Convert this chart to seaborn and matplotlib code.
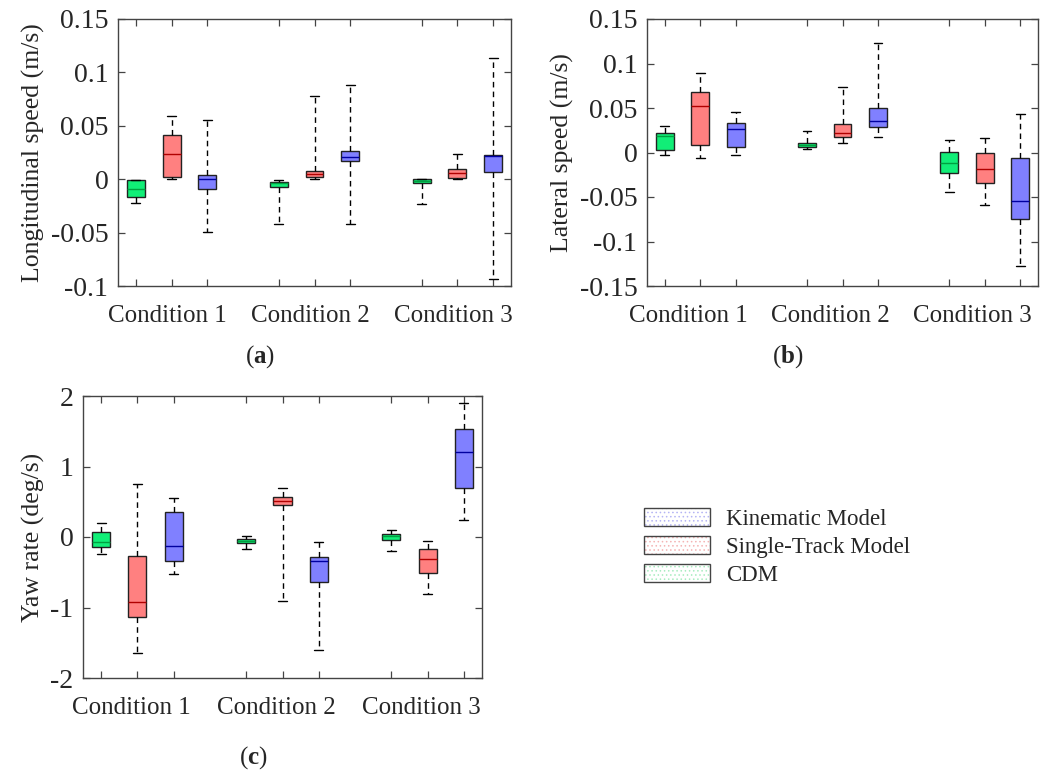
import numpy as np
import pandas as pd
import matplotlib
matplotlib.use("Agg")
import matplotlib.pyplot as plt
import matplotlib.transforms as mtransforms
from matplotlib.patches import Patch
from matplotlib.legend_handler import HandlerTuple
import seaborn as sns

sns.set_style("white")
plt.rcParams['font.family'] = ['Liberation Serif', 'DejaVu Serif']
plt.rcParams['mathtext.fontset'] = 'custom'
plt.rcParams['mathtext.rm'] = 'Liberation Serif'
plt.rcParams['mathtext.bf'] = 'Liberation Serif:bold'
plt.rcParams['axes.unicode_minus'] = False
plt.rcParams['hatch.linewidth'] = 0.6

conditions = ["Condition 1", "Condition 2", "Condition 3"]
models = ["CDM", "Single-Track Model", "Kinematic Model"]   # draw order inside each condition
legend_order = ["Kinematic Model", "Single-Track Model", "CDM"]

# five-number summaries, order: C1(CDM, ST, Kin), C2(...), C3(...)
a_lo  = [-0.0226, 0.0000, -0.0490, -0.0423, 0.0005, -0.0423, -0.0235, 0.0000, -0.0934]
a_q1  = [-0.0170, 0.0024, -0.0089, -0.0076, 0.0024, 0.0167, -0.0032, 0.0008, 0.0064]
a_med = [-0.0095, 0.0236, 0.0005, -0.0036, 0.0052, 0.0211, -0.0014, 0.0055, 0.0214]
a_q3  = [-0.0004, 0.0417, 0.0040, -0.0023, 0.0077, 0.0267, 0.0000, 0.0092, 0.0223]
a_hi  = [-0.0004, 0.0595, 0.0554, -0.0010, 0.0780, 0.0885, 0.0000, 0.0240, 0.1135]

b_lo  = [-0.0024, -0.0066, -0.0024, 0.0043, 0.0103, 0.0174, -0.0440, -0.0586, -0.1275]
b_q1  = [0.0032, 0.0088, 0.0062, 0.0058, 0.0174, 0.0287, -0.0234, -0.0343, -0.0747]
b_med = [0.0185, 0.0526, 0.0268, 0.0080, 0.0215, 0.0354, -0.0122, -0.0189, -0.0545]
b_q3  = [0.0223, 0.0684, 0.0335, 0.0103, 0.0320, 0.0504, 0.0002, -0.0006, -0.0066]
b_hi  = [0.0298, 0.0897, 0.0451, 0.0245, 0.0740, 0.1227, 0.0140, 0.0159, 0.0429]

c_lo  = [-0.245, -1.646, -0.519, -0.175, -0.906, -1.599, -0.198, -0.802, 0.236]
c_q1  = [-0.140, -1.137, -0.344, -0.080, 0.453, -0.642, -0.042, -0.509, 0.693]
c_med = [-0.070, -0.915, -0.127, -0.052, 0.514, -0.340, 0.009, -0.316, 1.212]
c_q3  = [0.070, -0.269, 0.354, -0.033, 0.561, -0.278, 0.042, -0.170, 1.538]
c_hi  = [0.193, 0.750, 0.547, 0.010, 0.698, -0.075, 0.099, -0.057, 1.906]

fills = {"CDM": "#11EE77", "Single-Track Model": "#FF8080", "Kinematic Model": "#8080FF"}
medians = {"CDM": "#00A040", "Single-Track Model": "#B00000", "Kinematic Model": "#0000A0"}
legend_hatch = {"CDM": "#A8ECC0", "Single-Track Model": "#F4B4B4", "Kinematic Model": "#B4B4F4"}


def make_df(lo, q1, med, q3, hi):
    rows = []
    k = 0
    for c in conditions:
        for m in models:
            for v in (lo[k], q1[k], med[k], q3[k], hi[k]):
                rows.append({"cond": c, "model": m, "val": v})
            k += 1
    return pd.DataFrame(rows)


FS = 18
FSY = 20
W = 1054
H = 774


def rect(l, r, t, b):
    return [l / W, 1 - b / H, (r - l) / W, (b - t) / H]


def panel(ax, df, ylim, yticks, ylabel, fmt, xshift_px):
    for m in models:
        sns.boxplot(data=df[df["model"] == m], x="cond", y="val", hue="model",
                    order=conditions, hue_order=models, palette=fills,
                    saturation=1, width=0.75, gap=0.5, dodge=True,
                    whis=(0, 100), linecolor="#222222", linewidth=1.0,
                    medianprops={"color": medians[m], "linewidth": 1.0},
                    whiskerprops={"linestyle": (0, (4, 3)), "color": "black", "linewidth": 1.0},
                    capprops={"color": "black", "linewidth": 1.0},
                    legend=False, ax=ax)
    ax.set_xlim(-0.375, 2.375)
    ax.set_ylim(*ylim)
    pos = []
    labs = []
    for i, c in enumerate(conditions):
        for d in (-0.25, 0, 0.25):
            pos.append(i + d)
            labs.append(c if d == 0 else "")
    ax.set_xticks(pos)
    ax.set_xticklabels(labs, fontsize=FS)
    ax.set_yticks(yticks)
    ax.set_yticklabels([fmt(v) for v in yticks], fontsize=FSY)
    ax.set_xlabel("")
    ax.set_ylabel(ylabel, fontsize=18.5)
    ax.tick_params(direction="in", length=5, width=0.9, color="#444444",
                   top=True, right=True, bottom=True, left=True, pad=7)
    ax.tick_params(axis="x", pad=14)
    for s in ax.spines.values():
        s.set_color("#444444")
        s.set_linewidth(1.0)
    off = mtransforms.ScaledTranslation(xshift_px / 100, 0, ax.figure.dpi_scale_trans)
    for lab in ax.get_xticklabels():
        lab.set_transform(lab.get_transform() + off)


def g(v):
    s = "%g" % round(v, 4)
    return "0" if s in ("-0", "0") else s


fig = plt.figure(figsize=(W / 100, H / 100), dpi=100)
ax_a = fig.add_axes(rect(118, 511, 19, 286))
ax_b = fig.add_axes(rect(647, 1038, 19, 286))
ax_c = fig.add_axes(rect(83, 482, 396, 678))

panel(ax_a, make_df(a_lo, a_q1, a_med, a_q3, a_hi), (-0.1, 0.15),
      np.round(np.arange(-0.1, 0.151, 0.05), 2), "Longitudinal speed (m/s)", g, -4)
panel(ax_b, make_df(b_lo, b_q1, b_med, b_q3, b_hi), (-0.15, 0.15),
      np.round(np.arange(-0.15, 0.151, 0.05), 2), "Lateral speed (m/s)", g, -12)
panel(ax_c, make_df(c_lo, c_q1, c_med, c_q3, c_hi), (-2, 2),
      np.arange(-2, 2.1, 1), "Yaw rate (deg/s)", g, -6)

fig.text(260 / W, 1 - 357 / H, r"($\mathbf{a}$)", fontsize=FS, ha="center", va="center")
fig.text(788 / W, 1 - 357 / H, r"($\mathbf{b}$)", fontsize=FS, ha="center", va="center")
fig.text(253 / W, 1 - 758 / H, r"($\mathbf{c}$)", fontsize=FS, ha="center", va="center")

handles = []
for m in legend_order:
    h1 = Patch(facecolor="white", edgecolor=legend_hatch[m], hatch="....", linewidth=0)
    h2 = Patch(facecolor="none", edgecolor="#444444", linewidth=1.0)
    handles.append((h1, h2))
fig.legend(handles, legend_order, handler_map={tuple: HandlerTuple(ndivide=1, pad=0)},
           loc="upper left", bbox_to_anchor=(644 / W, 1 - 508 / H), frameon=False,
           fontsize=16.5, handlelength=2.9, handleheight=0.85, labelspacing=0.25,
           handletextpad=0.7, borderpad=0, borderaxespad=0)

fig.savefig("out.png", dpi=100)
